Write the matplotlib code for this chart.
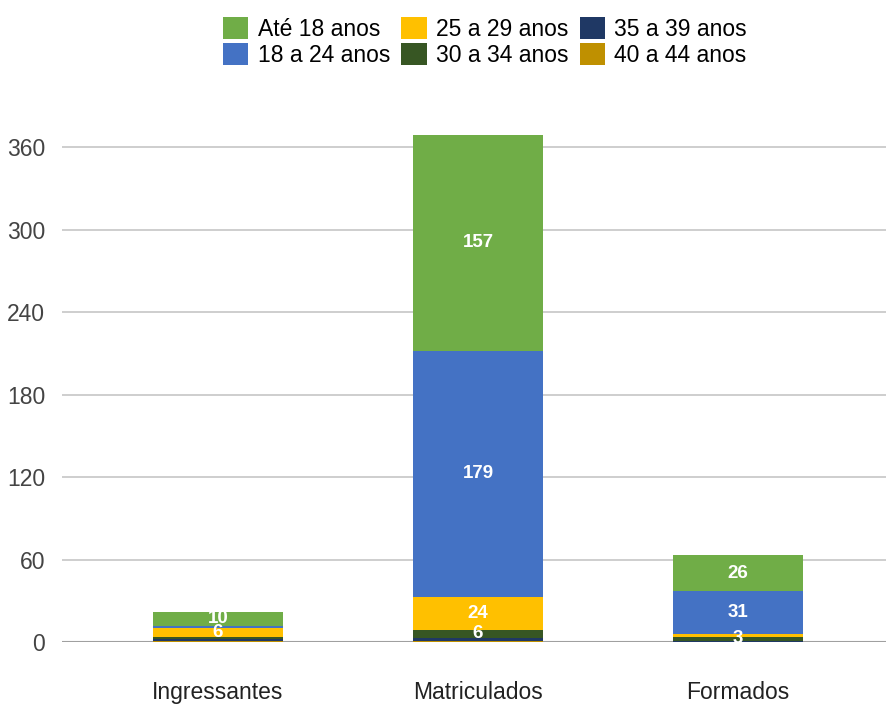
import matplotlib.pyplot as plt
import numpy as np

plt.rcParams['font.family'] = ['Liberation Sans', 'DejaVu Sans']

categorias = ["Ingressantes", "Matriculados", "Formados"]
faixas = ["Até 18 anos", "18 a 24 anos", "25 a 29 anos",
          "30 a 34 anos", "35 a 39 anos", "40 a 44 anos"]
ate_18 = [10, 157, 26]
de_18_24 = [2, 179, 31]
de_25_29 = [6, 24, 2]
de_30_34 = [2, 6, 3]
de_35_39 = [1, 2, 1]
de_40_44 = [1, 1, 0]
cores = ["#70AD47", "#4472C4", "#FFC000", "#375623", "#1F3864", "#BF9000"]
yticks = [0, 60, 120, 180, 240, 300, 360]

series = [ate_18, de_18_24, de_25_29, de_30_34, de_35_39, de_40_44]

fig = plt.figure(figsize=(8.87, 7.04), dpi=100)
ax = fig.add_axes([62/887, 0.088, 825/887, 0.742])

x = np.arange(len(categorias))
# stack from the oldest group at the bottom up to "Até 18" on top
base = np.zeros(len(categorias))
handles = {}
for nome, vals, cor in reversed(list(zip(faixas, series, cores))):
    vals = np.array(vals, dtype=float)
    b = ax.bar(x, vals, 0.5, bottom=base, color=cor, zorder=3)
    handles[nome] = b
    for xi, v, b0 in zip(x, vals, base):
        if v >= 3:
            ax.text(xi, b0 + v / 2, str(int(v)), ha='center', va='center',
                    color='white', fontsize=13.5, fontweight='bold', zorder=4)
    base += vals

ax.set_xlim(-0.6, 2.573)
ax.set_ylim(0, 380)
ax.set_yticks(yticks)
ax.set_xticks(x)
ax.set_xticklabels(categorias)
ax.grid(axis='y', color='#c6c6c6', linewidth=1.2, zorder=0)
ax.axhline(0, color='#a0a0a0', linewidth=1.5, zorder=2)
for s in ax.spines.values():
    s.set_visible(False)
ax.tick_params(axis='y', length=0, pad=12, labelsize=16.5, labelcolor='#444444')
ax.tick_params(axis='x', length=0, pad=28, labelsize=16.5, labelcolor='#222222')

ax.legend([handles[n] for n in faixas], faixas, ncol=3, loc='upper center',
          bbox_to_anchor=(485/887, 0.995), bbox_transform=fig.transFigure,
          frameon=False, fontsize=16.5, handlelength=1.1, handleheight=1.1,
          handletextpad=0.4, columnspacing=0.5, labelspacing=0.1,
          borderaxespad=0.2)

fig.savefig("out.png", dpi=100)
